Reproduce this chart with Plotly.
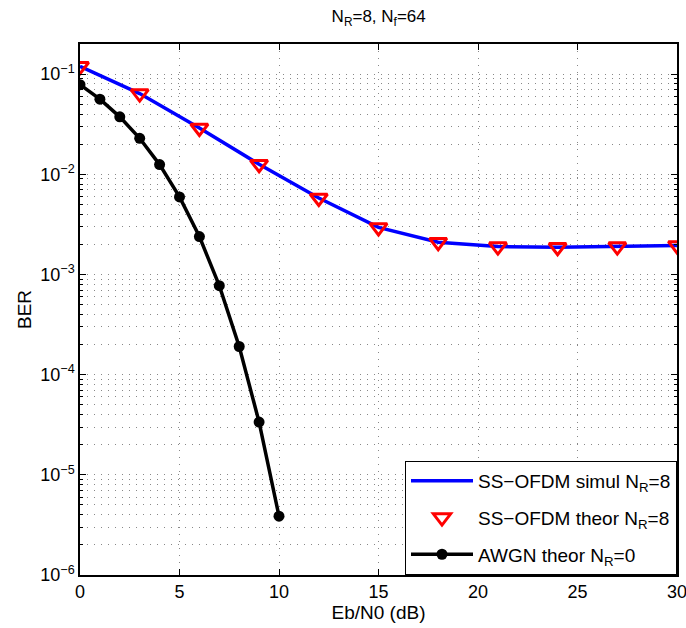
import plotly.graph_objects as go

# Data
snr_ss = [0, 3, 6, 9, 12, 15, 18, 21, 24, 27, 30]
ber_ss_simul = [0.12, 0.064, 0.029, 0.0126, 0.0058, 0.00295, 0.0021, 0.0019, 0.00187, 0.0019, 0.00195]
ber_ss_theor = [0.12, 0.064, 0.029, 0.0126, 0.0058, 0.00295, 0.0021, 0.0019, 0.00187, 0.0019, 0.00195]
snr_awgn = [0, 1, 2, 3, 4, 5, 6, 7, 8, 9, 10]
ber_awgn = [0.0786, 0.0563, 0.0375, 0.0229, 0.0125, 0.00595, 0.00239, 0.000773, 0.000191, 3.36e-5, 3.87e-6]

x_ticks = [0, 5, 10, 15, 20, 25, 30]
y_tickvals = [1e-6, 1e-5, 1e-4, 1e-3, 1e-2, 1e-1]
y_ticktext = ["10<sup>−6</sup>", "10<sup>−5</sup>", "10<sup>−4</sup>", "10<sup>−3</sup>", "10<sup>−2</sup>", "10<sup>−1</sup>"]

FONT = "Liberation Sans, Arial, Helvetica, sans-serif"

fig = go.Figure()
fig.add_trace(go.Scatter(x=snr_ss, y=ber_ss_simul, mode="lines",
                         line=dict(color="#0000ff", width=3.5), legendgroup="a",
                         name="SS−OFDM simul N<sub>R</sub>=8"))
fig.add_trace(go.Scatter(x=snr_ss, y=ber_ss_theor, mode="markers",
                         marker=dict(symbol="triangle-down-open", size=15, color="#ff0000",
                                     line=dict(width=3, color="#ff0000")), legendgroup="b",
                         name="SS−OFDM theor N<sub>R</sub>=8"))
fig.add_trace(go.Scatter(x=snr_awgn, y=ber_awgn, mode="lines+markers",
                         line=dict(color="#000000", width=3.5),
                         marker=dict(symbol="circle", size=11, color="#000000"), legendgroup="c",
                         name="AWGN theor N<sub>R</sub>=0"))

grid_dash = "1px,6px"
fig.update_layout(
    width=686, height=628,
    margin=dict(l=80, r=9, t=44, b=53),
    paper_bgcolor="white", plot_bgcolor="white",
    font=dict(family=FONT, size=17, color="black"),
    title=dict(text="N<sub>R</sub>=8, N<sub>f</sub>=64", x=0.552, xanchor="center",
               y=1 - 16 / 628, yanchor="middle", font=dict(size=17)),
    xaxis=dict(range=[0, 30], tickvals=x_ticks, ticks="inside", ticklen=6, tickcolor="black",
               showline=True, linecolor="black", linewidth=1.5, mirror="allticks",
               showgrid=True, gridcolor="#888", griddash=grid_dash, gridwidth=1,
               zeroline=False, automargin=False, ticklabeloverflow="allow",
               tickfont=dict(size=18),
               title=dict(text="Eb/N0 (dB)", standoff=1, font=dict(size=19))),
    yaxis=dict(type="log", range=[-6, -0.699], tickvals=y_tickvals, ticktext=y_ticktext,
               ticks="inside", ticklen=6, tickcolor="black",
               showline=True, linecolor="black", linewidth=1.5, mirror="allticks",
               showgrid=True, gridcolor="#888", griddash=grid_dash, gridwidth=1,
               zeroline=False, automargin=False, ticklabeloverflow="allow",
               tickfont=dict(size=18),
               minor=dict(tickvals=[m * 10.0 ** e for e in range(-6, 0) for m in range(2, 10)],
                          ticks="inside", ticklen=3, tickcolor="black",
                          showgrid=True, gridcolor="#888", griddash=grid_dash, gridwidth=1),
               title=dict(text="BER", standoff=4, font=dict(size=19))),
    legend=dict(x=1, y=0, xanchor="right", yanchor="bottom",
                bgcolor="white", bordercolor="black", borderwidth=1,
                font=dict(size=19), itemwidth=62, tracegroupgap=9),
    showlegend=True,
)

fig.write_html("out.html", config={"displayModeBar": False},
               post_script="document.body.style.margin='0';")
